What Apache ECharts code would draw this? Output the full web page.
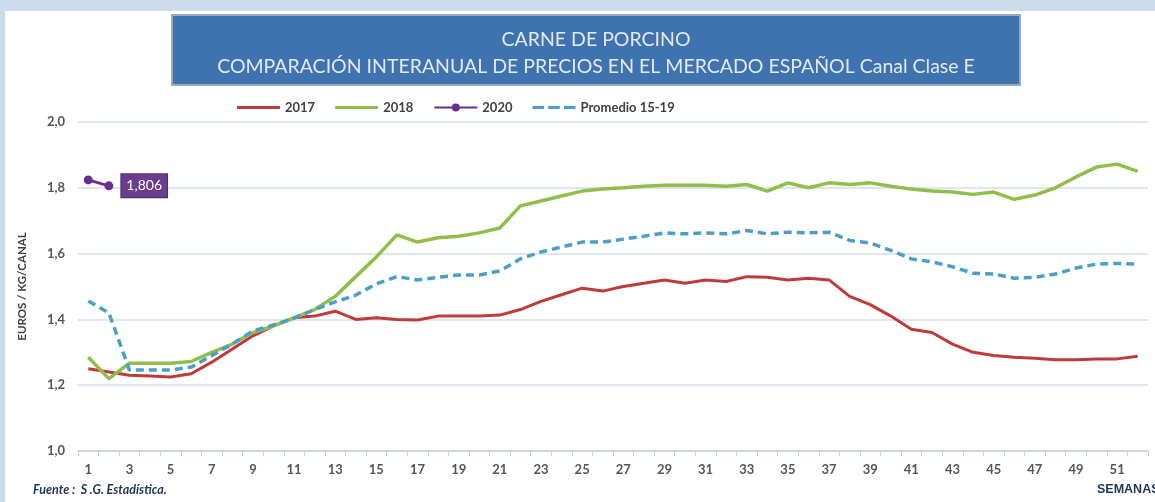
<!DOCTYPE html>
<html><head><meta charset="utf-8">
<script src="https://cdn.jsdelivr.net/npm/echarts@6/dist/echarts.min.js"></script>
<style>html,body{margin:0;padding:0;background:#cddcec;}#c{width:1155px;height:502px;}</style>
</head><body><div id="c"></div>
<script>
const weeks = Array.from({length:52},(_,i)=>String(i+1));
const s2017 = [1.25,1.24,1.23,1.228,1.225,1.235,1.27,1.31,1.35,1.38,1.405,1.41,1.425,1.40,1.405,1.40,1.398,1.41,1.41,1.41,1.413,1.43,1.455,1.475,1.495,1.486,1.50,1.51,1.52,1.51,1.52,1.515,1.53,1.528,1.52,1.525,1.52,1.47,1.445,1.41,1.37,1.36,1.325,1.30,1.29,1.285,1.282,1.277,1.277,1.28,1.28,1.288];
const s2018 = [1.285,1.22,1.267,1.267,1.267,1.272,1.30,1.325,1.36,1.38,1.405,1.43,1.47,1.53,1.59,1.657,1.635,1.648,1.653,1.663,1.678,1.745,1.76,1.775,1.79,1.796,1.80,1.805,1.808,1.808,1.808,1.805,1.81,1.79,1.815,1.80,1.815,1.81,1.815,1.805,1.796,1.79,1.787,1.78,1.787,1.765,1.778,1.80,1.833,1.863,1.872,1.85];
const s2020 = [1.824,1.806];
const sProm = [1.456,1.42,1.246,1.246,1.246,1.255,1.29,1.325,1.365,1.383,1.404,1.43,1.453,1.474,1.508,1.53,1.52,1.528,1.535,1.535,1.547,1.584,1.605,1.62,1.635,1.635,1.644,1.653,1.663,1.66,1.663,1.66,1.67,1.66,1.665,1.663,1.665,1.64,1.632,1.61,1.584,1.575,1.56,1.54,1.538,1.525,1.528,1.538,1.556,1.568,1.57,1.568];
const names = ['2017','2018','2020','Promedio 15-19'];
const titleLines = ['CARNE DE PORCINO','COMPARACIÓN INTERANUAL DE PRECIOS EN EL MERCADO ESPAÑOL Canal Clase E'];

const chart = echarts.init(document.getElementById('c'));
const F = 'Lato, "Open Sans", sans-serif';
const lastIdx = s2020.length - 1;
const data2020 = s2020.map((v,i)=> i===lastIdx ? {value:v,label:{show:true}} : {value:v});
chart.setOption({
  backgroundColor:'#cddcec',
  animation:false,
  graphic:[
    {type:'rect',z:-10,shape:{x:5,y:11,width:1150,height:491},style:{fill:'#ffffff'},silent:true},
    {type:'rect',z:10,shape:{x:172,y:15,width:848,height:70},style:{fill:'#3f73b0',stroke:'#9aa9bb',lineWidth:2}},
    {type:'text',z:11,x:596,y:40,style:{text:titleLines[0],fill:'#e2e8f0',font:'19.5px '+F,align:'center',verticalAlign:'middle'}},
    {type:'text',z:11,x:596,y:67,style:{text:titleLines[1],fill:'#e2e8f0',font:'19.5px '+F,align:'center',verticalAlign:'middle'}},
    {type:'text',x:33,y:483,style:{text:'Fuente :  S .G. Estadística.',fill:'#1f3556',font:'italic bold 12.5px '+F}},
    {type:'text',x:1097,y:483,style:{text:'SEMANAS',fill:'#1f3556',font:'bold 12.5px "Liberation Sans", Arial, sans-serif'}}
  ],
  legend:{
    top:96,left:232,itemWidth:43,itemHeight:10,itemGap:20,
    textStyle:{fontFamily:F,fontWeight:'bold',fontSize:13,color:'#404040'},
    data:[
      {name:names[0],icon:'path://M0,4L43,4L43,7L0,7Z'},
      {name:names[1],icon:'path://M0,4L43,4L43,7L0,7Z'},
      {name:names[2]},
      {name:names[3],icon:'path://M0,4L11,4L11,7L0,7Z M15,4L26,4L26,7L15,7Z M30,4L41,4L41,7L30,7Z'}
    ]
  },
  grid:{left:78,right:7,top:122,bottom:51},
  xAxis:{
    type:'category',data:weeks,boundaryGap:true,
    axisLine:{lineStyle:{color:'#c5d2df',width:1.5}},
    axisTick:{show:true,interval:0,length:5,lineStyle:{color:'#c5d2df'}},
    axisLabel:{interval:1,fontFamily:F,fontWeight:'bold',fontSize:13,color:'#555555',margin:12}
  },
  yAxis:{
    type:'value',min:1.0,max:2.0,interval:0.2,
    name:'EUROS / KG/CANAL',nameLocation:'middle',nameGap:50,nameRotate:90,
    nameTextStyle:{fontFamily:F,fontWeight:'bold',fontSize:11.5,color:'#404040'},
    axisLabel:{fontFamily:F,fontWeight:'bold',fontSize:13,color:'#555555',margin:13,
      formatter:v=>v.toFixed(1).replace('.',',')},
    axisLine:{show:false},axisTick:{show:false},
    splitLine:{lineStyle:{color:'#d3dce6',width:1.5}}
  },
  series:[
    {name:names[0],type:'line',data:s2017,symbol:'none',lineStyle:{color:'#c0393b',width:3},itemStyle:{color:'#c0393b'}},
    {name:names[1],type:'line',data:s2018,symbol:'none',lineStyle:{color:'#8fbe4a',width:3.5},itemStyle:{color:'#8fbe4a'}},
    {name:names[3],type:'line',data:sProm,symbol:'none',lineStyle:{color:'#4a9fc6',width:3.5,type:[8,5]},itemStyle:{color:'#4a9fc6'}},
    {name:names[2],type:'line',data:data2020,symbol:'circle',symbolSize:9,lineStyle:{color:'#6a2f8e',width:3},itemStyle:{color:'#6a2f8e'},
      label:{show:false,position:'right',distance:8,fontFamily:F,fontSize:14,color:'#ffffff',backgroundColor:'#6b3d8e',
        borderColor:'#4d2a69',borderWidth:1,padding:[5,5,4,5],
        formatter:p=>p.value.toFixed(3).replace('.',',')}}
  ]
});
</script></body></html>
